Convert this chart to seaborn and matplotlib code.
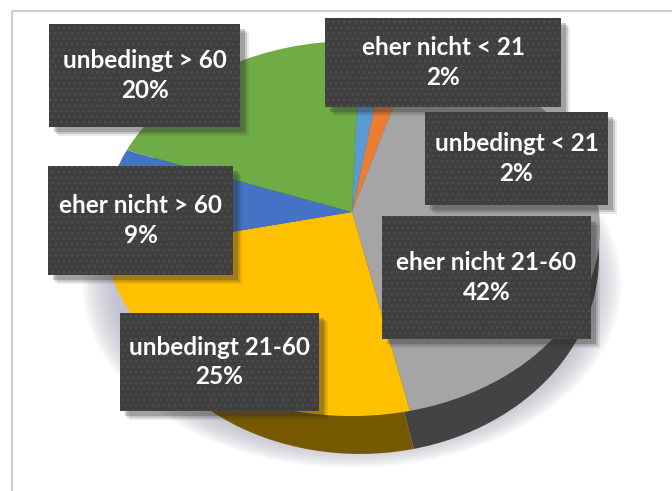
import numpy as np
import matplotlib
matplotlib.use("Agg")
import matplotlib.pyplot as plt
from matplotlib.patches import Rectangle, Ellipse
from matplotlib.transforms import Transform
import seaborn as sns

categories = ["unbedingt < 21", "eher nicht < 21", "eher nicht 21-60",
              "unbedingt 21-60", "eher nicht > 60", "unbedingt > 60"]
values = [2, 2, 42, 25, 9, 20]
top_colors = ["#5b9bd5", "#ed7d31", "#a5a5a5", "#ffc000", "#4472c4", "#6fac46"]
side_colors = ["#2f5f8c", "#8c4a1d", "#434343", "#765800", "#2a4478", "#43682a"]
label_boxes = {
    "unbedingt > 60": (49, 24, 240, 127),
    "eher nicht > 60": (48, 166, 233, 275),
    "eher nicht < 21": (325, 18, 561, 107),
    "unbedingt < 21": (425, 112, 608, 205),
    "eher nicht 21-60": (382, 216, 591, 339),
    "unbedingt 21-60": (120, 313, 319, 411),
}

sns.set_theme(style="white")
plt.rcParams["font.family"] = ["Lato", "DejaVu Sans"]
plt.rcParams["hatch.linewidth"] = 1.0


class Perspective(Transform):
    input_dims = 2
    output_dims = 2
    is_affine = False

    def __init__(self, cx, cy, c, a, b):
        super().__init__()
        self.cx, self.cy, self.c, self.a, self.b = cx, cy, c, a, b

    def transform_non_affine(self, values):
        values = np.asarray(values, dtype=float)
        w = 1 + self.b * values[:, 1]
        return np.column_stack((self.cx + self.c * values[:, 0] / w,
                                self.cy - self.a * values[:, 1] / w))


fig = plt.figure(figsize=(6.72, 4.91), dpi=100, facecolor="white")
ax = fig.add_axes([0, 0, 1, 1])

# soft drop shadow below the disc
for i in range(24):
    g = i / 23
    ax.add_patch(Ellipse((352, 284), 540 - 70 * g, 368 - 50 * g,
                         facecolor="#b4b4c4", edgecolor="none", alpha=0.05, zorder=1))

# extruded side of the disc, then top face
side, _ = ax.pie(values, startangle=87.5, counterclock=False, colors=side_colors,
                 wedgeprops={"linewidth": 0, "edgecolor": "none"})
for w in side:
    w.set_transform(Perspective(360, 240, 238, 195, 0.0885) + ax.transData)
    w.set_zorder(2)
top, _ = ax.pie(values, startangle=88, counterclock=False, colors=top_colors,
                wedgeprops={"linewidth": 0, "edgecolor": "none"})
for w in top:
    w.set_transform(Perspective(352, 212, 247, 186, 0.0885) + ax.transData)
    w.set_zorder(3)

# outer frame
ax.add_patch(Rectangle((12, 11), 700, 520, facecolor="none", edgecolor="#cccccc",
                       linewidth=1.5, zorder=4))

# data labels
for name, val in zip(categories, values):
    x0, y0, x1, y1 = label_boxes[name]
    for k, al in ((9, 0.10), (7, 0.18), (5, 0.25)):
        ax.add_patch(Rectangle((x0 + k, y0 + k), x1 - x0, y1 - y0, facecolor="#303030",
                               edgecolor="none", alpha=al, zorder=5))
    ax.add_patch(Rectangle((x0, y0), x1 - x0, y1 - y0, facecolor="#3f3f3f",
                           edgecolor="#4e4e4e", hatch="...", linewidth=0, zorder=6))
    ax.text((x0 + x1) / 2, (y0 + y1) / 2, f"{name}\n{val}%", color="white", ha="center",
            va="center", fontsize=17.5, fontweight="bold", linespacing=1.32, zorder=7)

ax.set_aspect("auto")
ax.set_xlim(0, 672)
ax.set_ylim(491, 0)
ax.set_xticks([])
ax.set_yticks([])
ax.set_frame_on(False)
fig.savefig("out.png", dpi=100)
